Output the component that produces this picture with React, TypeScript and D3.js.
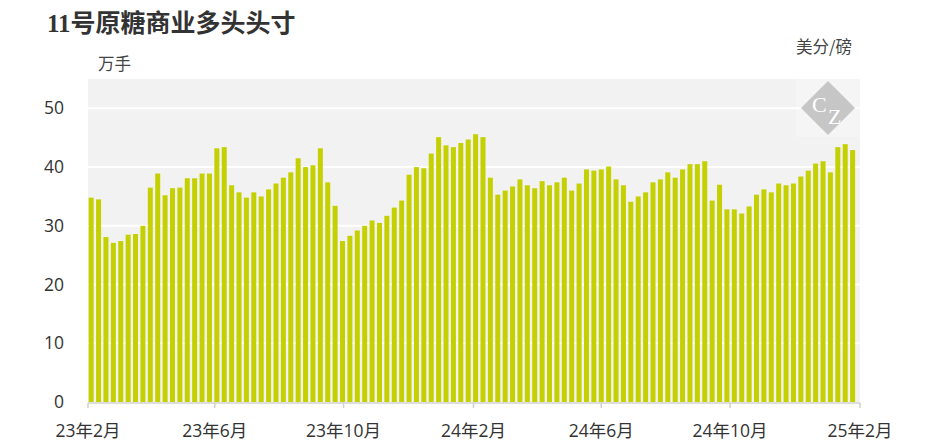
import React from "react";
import * as d3 from "d3";

const title = "11号原糖商业多头头寸";
const leftUnit = "万手";
const rightUnit = "美分/磅";
const firstDate = "2023-02-04";
const values = [
  34.8, 34.5, 28.1, 27.1, 27.4, 28.5, 28.6, 30.0, 36.5, 38.9,
  35.2, 36.4, 36.5, 38.1, 38.1, 38.9, 38.9, 43.2, 43.4, 36.9,
  35.7, 34.8, 35.7, 35.0, 36.2, 37.2, 38.2, 39.1, 41.5, 40.0,
  40.3, 43.2, 37.4, 33.4, 27.4, 28.3, 29.2, 30.0, 30.9, 30.5,
  31.7, 33.1, 34.3, 38.7, 40.0, 39.8, 42.3, 45.1, 43.7, 43.4,
  44.1, 44.7, 45.6, 45.1, 38.2, 35.3, 36.0, 36.7, 37.9, 36.9,
  36.4, 37.6, 36.9, 37.4, 38.2, 36.0, 37.2, 39.6, 39.4, 39.6,
  40.1, 37.9, 36.9, 34.1, 35.0, 35.7, 37.4, 37.9, 39.1, 38.2,
  39.6, 40.5, 40.5, 41.0, 34.3, 37.0, 32.8, 32.8, 32.1, 33.3,
  35.3, 36.2, 35.7, 37.2, 36.9, 37.2, 38.4, 39.4, 40.6, 41.0,
  39.1, 43.4, 43.9, 42.9,
];
const yTicks = [0, 10, 20, 30, 40, 50];
const xTickDates = ["2023-02-01", "2023-06-01", "2023-10-01", "2024-02-01", "2024-06-01", "2024-10-01", "2025-02-01"];
const xTickLabels = ["23年2月", "23年6月", "23年10月", "24年2月", "24年6月", "24年10月", "25年2月"];

const W = 951;
const H = 443;
const M = { left: 88, right: 860, top: 79, bottom: 402 };
const tickFont = "'Open Sans', 'Noto Sans CJK SC', sans-serif";

export default function App() {
  const parse = d3.timeParse("%Y-%m-%d");
  const x = d3
    .scaleTime()
    .domain([parse(xTickDates[0])!, parse(xTickDates[xTickDates.length - 1])!])
    .range([M.left, M.right]);
  const y = d3.scaleLinear().domain([0, 55]).range([M.bottom, M.top]);
  const start = parse(firstDate)!;
  const dates = values.map((_, i) => d3.timeDay.offset(start, 7 * i));
  const bw = 5;

  const cx = 828;
  const cy = 108;
  const r = 27;

  return (
    <svg width={W} height={H} style={{ position: "absolute", left: 0, top: 0, background: "#fff" }}>
      <text x={47} y={32} fontFamily="'Liberation Serif', 'Noto Sans CJK SC', serif" fontWeight="bold" fontSize={25} fill="#333">
        {title}
      </text>
      <text x={98} y={70} fontFamily="'Noto Sans CJK SC', sans-serif" fontSize={16.5} fill="#444">
        {leftUnit}
      </text>
      <text x={852} y={53} textAnchor="end" fontFamily="'Noto Sans CJK SC', sans-serif" fontSize={16.5} fill="#444">
        {rightUnit}
      </text>

      <rect x={M.left} y={M.top} width={M.right - M.left} height={M.bottom - M.top} fill="#f2f2f2" />
      <rect x={796} y={M.top} width={M.right - 796} height={58} fill="#f5f5f5" />
      {yTicks
        .filter((t) => t > 0)
        .map((t) => (
          <line key={t} x1={M.left} x2={M.right} y1={y(t)} y2={y(t)} stroke="#fff" strokeWidth={2} />
        ))}

      <polygon
        points={`${cx},${cy - r} ${cx + r},${cy} ${cx},${cy + r} ${cx - r},${cy}`}
        fill="#c6c6c6"
      />
      <text x={812} y={112} fontFamily="'Liberation Serif', serif" fontSize={22} fill="#fff">C</text>
      <text x={828} y={124} fontFamily="'Liberation Serif', serif" fontSize={22} fill="#fff">Z</text>

      {values.map((v, i) => (
        <rect
          key={i}
          x={x(dates[i]) - bw / 2}
          y={y(v)}
          width={bw}
          height={y(0) - y(v)}
          fill="#c5d000"
        />
      ))}

      <line x1={M.left} x2={M.right} y1={M.bottom + 1} y2={M.bottom + 1} stroke="#d0d0d0" strokeWidth={1.5} />
      {xTickDates.map((d, i) => {
        const xx = x(parse(d)!);
        return (
          <g key={d}>
            <line x1={xx} x2={xx} y1={M.bottom + 1} y2={M.bottom + 6} stroke="#d0d0d0" strokeWidth={1.5} />
            <text x={xx} y={437} textAnchor="middle" fontFamily={tickFont} fontSize={17.5} fill="#333">
              {xTickLabels[i]}
            </text>
          </g>
        );
      })}
      {yTicks.map((t) => (
        <text key={t} x={64} y={y(t)} dy="0.35em" textAnchor="end" fontFamily={tickFont} fontSize={17.5} fill="#333">
          {t}
        </text>
      ))}
    </svg>
  );
}
